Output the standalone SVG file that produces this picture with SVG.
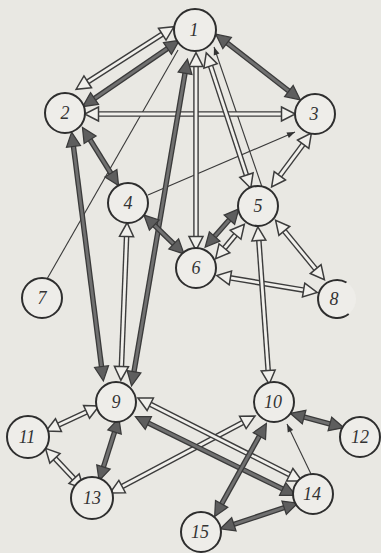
<svg xmlns="http://www.w3.org/2000/svg" width="381" height="553" viewBox="0 0 381 553">
<style>
.bg{fill:#e9e8e3}
.ho{stroke:#3c3c3c;stroke-width:5.6;fill:none}
.hi{stroke:#f1f0ec;stroke-width:2.8;fill:none;marker-start:url(#hh);marker-end:url(#hh)}
.do{stroke:#3a3a3a;stroke-width:5.4;fill:none}
.di{stroke:#707070;stroke-width:2.8;fill:none;marker-start:url(#dh);marker-end:url(#dh)}
.th{stroke:#3a3a3a;stroke-width:1.1;fill:none}
.ta{marker-end:url(#sh)}
.nc{fill:#eeede9;stroke:#2e2e2e;stroke-width:2}
.nt{font-family:"Liberation Serif","DejaVu Serif",serif;font-style:italic;font-size:18px;fill:#333;text-anchor:middle}
</style>
<defs>
<marker id="hh" markerUnits="userSpaceOnUse" orient="auto-start-reverse" refX="0.4" refY="0" markerWidth="20" markerHeight="20" viewBox="-2 -8 16 16" overflow="visible">
<path d="M0,-5.6 L11,0 L0,5.6 Z" fill="#f1f0ec" stroke="#3c3c3c" stroke-width="1.2" stroke-linejoin="miter"/>
</marker>
<marker id="dh" markerUnits="userSpaceOnUse" orient="auto-start-reverse" refX="0.4" refY="0" markerWidth="20" markerHeight="20" viewBox="-2 -8 16 16" overflow="visible">
<path d="M0,-5.6 L11.5,0 L0,5.6 Z" fill="#5e5e5e" stroke="#3a3a3a" stroke-width="1"/>
</marker>
<marker id="sh" markerUnits="userSpaceOnUse" orient="auto" refX="8" refY="0" markerWidth="12" markerHeight="12" viewBox="-2 -5 12 10" overflow="visible">
<path d="M0,-3 L8,0 L0,3 Z" fill="#333"/>
</marker>
</defs>
<rect class="bg" x="0" y="0" width="381" height="553"/>
<g id="edges">
<line class="th" x1="178" y1="50" x2="47" y2="279"/>
<line class="th ta" x1="262" y1="187" x2="214" y2="47"/>
<line class="th ta" x1="148" y1="195" x2="295" y2="132"/>
<line class="th ta" x1="311" y1="474" x2="287" y2="424"/>
<g id="e1-2a"><line class="ho" x1="87.3" y1="82.1" x2="162.7" y2="33.9"/><line class="hi" x1="87.3" y1="82.1" x2="162.7" y2="33.9"/></g>
<g id="e2-3"><line class="ho" x1="98" y1="114" x2="282" y2="114"/><line class="hi" x1="98" y1="114" x2="282" y2="114"/></g>
<g id="e1-6"><line class="ho" x1="196" y1="66" x2="196" y2="237"/><line class="hi" x1="196" y1="66" x2="196" y2="237"/></g>
<g id="e1-5"><line class="ho" x1="210.4" y1="65.5" x2="246.6" y2="175.6"/><line class="hi" x1="210.4" y1="65.5" x2="246.6" y2="175.6"/></g>
<g id="e3-5"><line class="ho" x1="303.5" y1="143.8" x2="279.5" y2="176.2"/><line class="hi" x1="303.5" y1="143.8" x2="279.5" y2="176.2"/></g>
<g id="e4-9"><line class="ho" x1="126.6" y1="236" x2="121.4" y2="367"/><line class="hi" x1="126.6" y1="236" x2="121.4" y2="367"/></g>
<g id="e5-6b"><line class="ho" x1="235.9" y1="234.4" x2="224.1" y2="248.6"/><line class="hi" x1="235.9" y1="234.4" x2="224.1" y2="248.6"/></g>
<g id="e5-8"><line class="ho" x1="284" y1="230.5" x2="316" y2="269.5"/><line class="hi" x1="284" y1="230.5" x2="316" y2="269.5"/></g>
<g id="e6-8"><line class="ho" x1="229.9" y1="277.8" x2="304.1" y2="290.2"/><line class="hi" x1="229.9" y1="277.8" x2="304.1" y2="290.2"/></g>
<g id="e5-10"><line class="ho" x1="258.8" y1="240" x2="268.2" y2="371"/><line class="hi" x1="258.8" y1="240" x2="268.2" y2="371"/></g>
<g id="e9-11"><line class="ho" x1="87" y1="411.7" x2="58" y2="425.3"/><line class="hi" x1="87" y1="411.7" x2="58" y2="425.3"/></g>
<g id="e11-13"><line class="ho" x1="54.6" y1="458" x2="74.4" y2="479"/><line class="hi" x1="54.6" y1="458" x2="74.4" y2="479"/></g>
<g id="e10-13"><line class="ho" x1="243.3" y1="422.2" x2="121.7" y2="486.8"/><line class="hi" x1="243.3" y1="422.2" x2="121.7" y2="486.8"/></g>
<g id="e9-14a"><line class="ho" x1="149.8" y1="404" x2="290.2" y2="475"/><line class="hi" x1="149.8" y1="404" x2="290.2" y2="475"/></g>
<g id="e1-2b"><line class="do" x1="94.1" y1="98.8" x2="167.9" y2="48.2"/><line class="di" x1="94.1" y1="98.8" x2="167.9" y2="48.2"/></g>
<g id="e1-3"><line class="do" x1="226.7" y1="42.7" x2="289.3" y2="91.3"/><line class="di" x1="226.7" y1="42.7" x2="289.3" y2="91.3"/></g>
<g id="e1-9"><line class="do" x1="185.1" y1="72.8" x2="133.9" y2="372.2"/><line class="di" x1="185.1" y1="72.8" x2="133.9" y2="372.2"/></g>
<g id="e2-9"><line class="do" x1="73.4" y1="145.9" x2="101.6" y2="367.1"/><line class="di" x1="73.4" y1="145.9" x2="101.6" y2="367.1"/></g>
<g id="e2-4"><line class="do" x1="89.8" y1="139.3" x2="111.2" y2="173.7"/><line class="di" x1="89.8" y1="139.3" x2="111.2" y2="173.7"/></g>
<g id="e4-6"><line class="do" x1="153.9" y1="224.7" x2="174.1" y2="244.3"/><line class="di" x1="153.9" y1="224.7" x2="174.1" y2="244.3"/></g>
<g id="e5-6a"><line class="do" x1="229.7" y1="219.3" x2="214.3" y2="236.8"/><line class="di" x1="229.7" y1="219.3" x2="214.3" y2="236.8"/></g>
<g id="e9-13"><line class="do" x1="114.7" y1="431.5" x2="103.3" y2="467.5"/><line class="di" x1="114.7" y1="431.5" x2="103.3" y2="467.5"/></g>
<g id="e9-14b"><line class="do" x1="147.9" y1="422.8" x2="283.1" y2="489.2"/><line class="di" x1="147.9" y1="422.8" x2="283.1" y2="489.2"/></g>
<g id="e10-12"><line class="do" x1="303.6" y1="416.9" x2="330.4" y2="424.1"/><line class="di" x1="303.6" y1="416.9" x2="330.4" y2="424.1"/></g>
<g id="e10-15"><line class="do" x1="259.6" y1="435.6" x2="221.4" y2="504.4"/><line class="di" x1="259.6" y1="435.6" x2="221.4" y2="504.4"/></g>
<g id="e14-15"><line class="do" x1="284.6" y1="507.5" x2="233.4" y2="524.5"/><line class="di" x1="284.6" y1="507.5" x2="233.4" y2="524.5"/></g>
</g>
<g id="n1"><circle class="nc" cx="195" cy="30" r="21"/><text class="nt" x="194" y="36">1</text></g>
<g id="n2"><circle class="nc" cx="65" cy="113" r="20"/><text class="nt" x="65" y="119">2</text></g>
<g id="n3"><circle class="nc" cx="315" cy="114" r="20"/><text class="nt" x="314" y="120">3</text></g>
<g id="n4"><circle class="nc" cx="128" cy="203" r="20"/><text class="nt" x="128" y="209">4</text></g>
<g id="n5"><circle class="nc" cx="258" cy="206" r="20"/><text class="nt" x="258" y="212">5</text></g>
<g id="n6"><circle class="nc" cx="196" cy="268" r="20"/><text class="nt" x="196" y="274">6</text></g>
<g id="n7"><circle class="nc" cx="42" cy="298" r="20"/><text class="nt" x="42" y="304">7</text></g>
<g id="n8"><circle cx="337" cy="299" r="19" fill="#eeede9"/><path d="M346.5,282.5 A19,19 0 1 0 348.7,314" fill="none" stroke="#2e2e2e" stroke-width="2"/><text class="nt" x="334" y="305">8</text></g>
<g id="n9"><circle class="nc" cx="116" cy="402" r="20"/><text class="nt" x="116" y="408">9</text></g>
<g id="n10"><circle class="nc" cx="274" cy="402" r="20"/><text class="nt" x="273" y="408">10</text></g>
<g id="n11"><circle class="nc" cx="28" cy="437" r="21"/><text class="nt" x="27" y="443">11</text></g>
<g id="n12"><circle class="nc" cx="360" cy="437" r="20"/><text class="nt" x="360" y="443">12</text></g>
<g id="n13"><circle class="nc" cx="92" cy="498" r="21"/><text class="nt" x="92" y="504">13</text></g>
<g id="n14"><circle class="nc" cx="313" cy="494" r="20"/><text class="nt" x="312" y="500">14</text></g>
<g id="n15"><circle class="nc" cx="201" cy="532" r="20"/><text class="nt" x="200" y="538">15</text></g>
</svg>
